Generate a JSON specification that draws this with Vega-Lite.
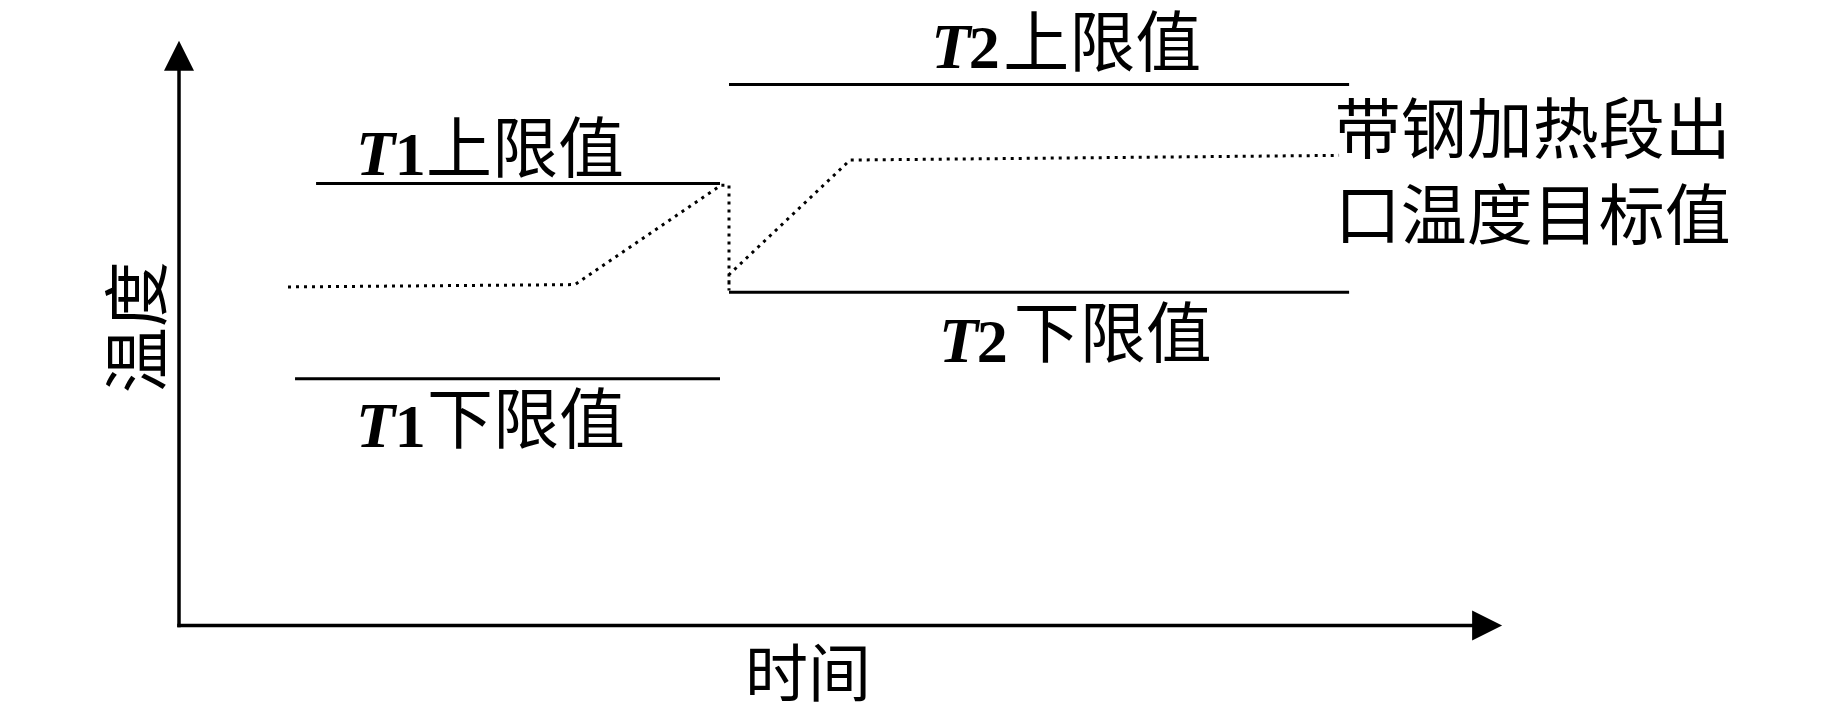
{
  "$schema": "https://vega.github.io/schema/vega-lite/v6.json",
  "width": 1843,
  "height": 709,
  "autosize": {"type": "fit", "contains": "padding"},
  "padding": 0,
  "background": "white",
  "config": {"view": {"stroke": null}},
  "datasets": {
    "axes": [
      {"axis": "温度", "t": 0, "T": 0, "t2": 0, "T2": 97.4},
      {"axis": "时间", "t": 0, "T": 0, "t2": 98.8, "T2": 0}
    ],
    "limits": [
      {"name": "T1上限值", "t": 10.36, "t2": 40.89, "T": 75.6},
      {"name": "T1下限值", "t": 8.77, "t2": 40.89, "T": 42.2},
      {"name": "T2上限值", "t": 41.57, "t2": 88.44, "T": 92.5},
      {"name": "T2下限值", "t": 41.57, "t2": 88.44, "T": 57.0}
    ],
    "target": [
      {"i": 1, "t": 8.24, "T": 57.9},
      {"i": 2, "t": 29.93, "T": 58.3},
      {"i": 3, "t": 40.97, "T": 75.3},
      {"i": 4, "t": 41.57, "T": 75.3},
      {"i": 5, "t": 41.57, "T": 57.3},
      {"i": 6, "t": 41.57, "T": 60.0},
      {"i": 7, "t": 50.72, "T": 79.6},
      {"i": 8, "t": 87.68, "T": 80.4}
    ],
    "heads": [
      {"dir": "up", "t": 0, "T": 97.45},
      {"dir": "right", "t": 98.87, "T": 0}
    ],
    "italicT": [
      {"s": "T", "t": 13.38, "T": 77.04},
      {"s": "T", "t": 13.38, "T": 30.6},
      {"s": "T", "t": 56.85, "T": 95.4},
      {"s": "T", "t": 57.45, "T": 45.07}
    ],
    "digits": [
      {"s": "1", "t": 16.3, "T": 77.04},
      {"s": "1", "t": 16.3, "T": 30.6},
      {"s": "2", "t": 59.7, "T": 95.4},
      {"s": "2", "t": 60.3, "T": 45.07}
    ],
    "cjk": [
      {"s": "上限值", "t": 18.67, "T": 80.95},
      {"s": "下限值", "t": 18.75, "T": 34.69},
      {"s": "上限值", "t": 62.3, "T": 99.15},
      {"s": "下限值", "t": 63.1, "T": 49.32},
      {"s": "带钢加热段出", "t": 87.35, "T": 84.2},
      {"s": "口温度目标值", "t": 87.35, "T": 69.55}
    ],
    "axisTitles": [
      {"s": "温度", "t": -2.87, "T": 51.0, "dir": "y"},
      {"s": "时间", "t": 47.54, "T": -8.8, "dir": "x"}
    ]
  },
  "encoding": {
    "x": {"field": "t", "type": "quantitative", "axis": null, "scale": {"domain": [-13.53, 125.77], "nice": false, "zero": false}},
    "y": {"field": "T", "type": "quantitative", "axis": null, "scale": {"domain": [-13.6, 106.97], "nice": false, "zero": false}}
  },
  "layer": [
    {
      "data": {"name": "axes"},
      "mark": {"type": "rule", "color": "black", "strokeWidth": 3.5, "strokeCap": "square"},
      "encoding": {"x2": {"field": "t2"}, "y2": {"field": "T2"}}
    },
    {
      "data": {"name": "limits"},
      "mark": {"type": "rule", "color": "black", "strokeWidth": 3},
      "encoding": {"x2": {"field": "t2"}}
    },
    {
      "data": {"name": "target"},
      "mark": {"type": "line", "color": "black", "strokeWidth": 3, "strokeDash": [3, 5], "interpolate": "linear"},
      "encoding": {"order": {"field": "i", "type": "quantitative"}}
    },
    {
      "data": {"name": "heads"},
      "transform": [{"filter": "datum.dir === 'up'"}],
      "mark": {"type": "point", "shape": "M0,-1L-1,1L1,1Z", "size": 900, "filled": true, "color": "black", "opacity": 1}
    },
    {
      "data": {"name": "heads"},
      "transform": [{"filter": "datum.dir === 'right'"}],
      "mark": {"type": "point", "shape": "M1,0L-1,-1L-1,1Z", "size": 900, "filled": true, "color": "black", "opacity": 1}
    },
    {
      "data": {"name": "italicT"},
      "mark": {"type": "text", "font": "Liberation Serif", "fontStyle": "italic", "fontWeight": "bold", "fontSize": 64, "align": "left", "baseline": "alphabetic", "color": "black"},
      "encoding": {"text": {"field": "s"}}
    },
    {
      "data": {"name": "digits"},
      "mark": {"type": "text", "font": "Liberation Serif", "fontWeight": "bold", "fontSize": 62, "align": "left", "baseline": "alphabetic", "color": "black"},
      "encoding": {"text": {"field": "s"}}
    },
    {
      "data": {"name": "cjk"},
      "mark": {"type": "text", "font": "Noto Sans CJK SC", "fontSize": 66, "align": "left", "baseline": "middle", "color": "black"},
      "encoding": {"text": {"field": "s"}}
    },
    {
      "data": {"name": "axisTitles"},
      "transform": [{"filter": "datum.dir === 'y'"}],
      "mark": {"type": "text", "font": "Noto Sans CJK SC", "fontSize": 66, "align": "center", "baseline": "middle", "angle": 270, "color": "black"},
      "encoding": {"text": {"field": "s"}}
    },
    {
      "data": {"name": "axisTitles"},
      "transform": [{"filter": "datum.dir === 'x'"}],
      "mark": {"type": "text", "font": "Noto Sans CJK SC", "fontSize": 63, "align": "center", "baseline": "middle", "color": "black"},
      "encoding": {"text": {"field": "s"}}
    }
  ]
}
